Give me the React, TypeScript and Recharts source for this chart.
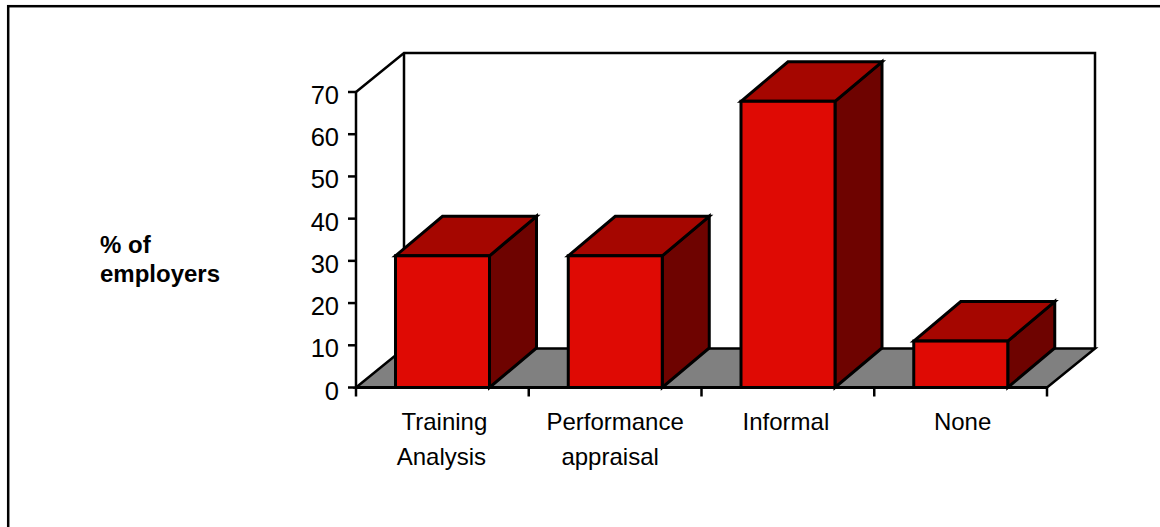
import React from 'react';
import { BarChart, Bar, XAxis, YAxis, ReferenceArea } from 'recharts';

// Share of employers per way of identifying training needs
const categories = ['Training Analysis', 'Performance appraisal', 'Informal', 'None'];
const employerShare = [31.2, 31.2, 67.8, 11];
const yTicks = [0, 10, 20, 30, 40, 50, 60, 70];
const categoryLines: Record<string, string[]> = {
  'Training Analysis': ['Training', 'Analysis'],
  'Performance appraisal': ['Performance', 'appraisal'],
  Informal: ['Informal'],
  None: ['None'],
};
const axisTitleLines = ['% of', 'employers'];

const rows = categories.map((name, i) => ({ name, value: employerShare[i] }));

const FONT = '"Liberation Sans", Arial, sans-serif';
const DX = 48;
const DY = -39;
const BOX_DX = 47;
const BOX_DY = -39.5;
const INK = '#000000';

// Hand-set horizontal nudges for the centred category label lines
const lineNudge: Record<string, number> = {
  Training: 2,
  Analysis: -1,
  Performance: 0,
  appraisal: -5,
  Informal: -2,
  None: 2,
};

// Back wall, floor and the tick marks along the category boundaries
const Room = ({ x, y, width, height }: any) => {
  const bottom = y + height;
  const right = x + width;
  return (
    <g>
      <polygon
        points={`${x},${bottom} ${x + DX},${bottom + DY} ${right + DX},${bottom + DY} ${right},${bottom}`}
        fill="#808080"
        stroke={INK}
        strokeWidth={2.5}
      />
      <polyline
        points={`${x},${y} ${x + DX},${y + DY} ${right + DX},${y + DY} ${right + DX},${bottom + DY}`}
        fill="none"
        stroke={INK}
        strokeWidth={2.5}
      />
      <line x1={x + DX} y1={y + DY} x2={x + DX} y2={bottom + DY} stroke={INK} strokeWidth={2.5} />
      {[...categories, ''].map((_, i) => {
        const tx = x + (i * width) / categories.length;
        return <line key={i} x1={tx} y1={bottom} x2={tx} y2={bottom + 9} stroke={INK} strokeWidth={2.5} />;
      })}
    </g>
  );
};

// A bar as a box: front face, lid and shaded right side
const Box = ({ x, y, width, height }: any) => {
  const l = x + 0.5;
  const r = l + width;
  const b = y + height;
  return (
    <g stroke={INK} strokeWidth={3} strokeLinejoin="miter">
      <polygon points={`${r},${y} ${r + BOX_DX},${y + BOX_DY} ${r + BOX_DX},${b + BOX_DY} ${r},${b}`} fill="#6E0300" />
      <polygon points={`${l},${y} ${l + BOX_DX},${y + BOX_DY} ${r + BOX_DX},${y + BOX_DY} ${r},${y}`} fill="#A50600" />
      <rect x={l} y={y} width={width} height={height} fill="#DF0A04" />
    </g>
  );
};

const CategoryTick = ({ x, y, payload }: any) => (
  <text textAnchor="middle" fontFamily={FONT} fontSize={24} fill={INK}>
    {categoryLines[payload.value].map((line, i) => (
      <tspan key={line} x={x + lineNudge[line]} y={y + 35 * i}>
        {line}
      </tspan>
    ))}
  </text>
);

export default function App() {
  return (
    <div style={{ position: 'absolute', left: 0, top: 0, width: 1160, height: 527, background: '#fff', overflow: 'hidden' }}>
      <BarChart
        width={1160}
        height={527}
        data={rows}
        margin={{ top: 92, right: 113, bottom: 59.5, left: 296 }}
        style={{ position: 'absolute', left: 0, top: 0 }}
      >
        <rect x={8.2} y={6.2} width={1160} height={540} fill="none" stroke={INK} strokeWidth={2.5} />
        <ReferenceArea y1={0} y2={70} ifOverflow="visible" shape={Room} />
        <XAxis
          dataKey="name"
          height={80}
          axisLine={{ stroke: INK, strokeWidth: 3 }}
          tickLine={false}
          interval={0}
          tick={CategoryTick}
          tickMargin={36}
        />
        <YAxis
          width={60}
          domain={[0, 70]}
          ticks={yTicks}
          interval={0}
          axisLine={{ stroke: INK, strokeWidth: 2.5 }}
          tickLine={{ stroke: INK, strokeWidth: 2.5 }}
          tickSize={8}
          tickMargin={9}
          tick={{ fontFamily: FONT, fontSize: 25.5, fill: INK, dy: 3 }}
        />
        <Bar dataKey="value" barSize={94} shape={Box} isAnimationActive={false} />
        <text fontFamily={FONT} fontSize={24} fontWeight="bold" fill={INK}>
          {axisTitleLines.map((line, i) => (
            <tspan key={line} x={100} y={253 + 29 * i}>
              {line}
            </tspan>
          ))}
        </text>
      </BarChart>
    </div>
  );
}
